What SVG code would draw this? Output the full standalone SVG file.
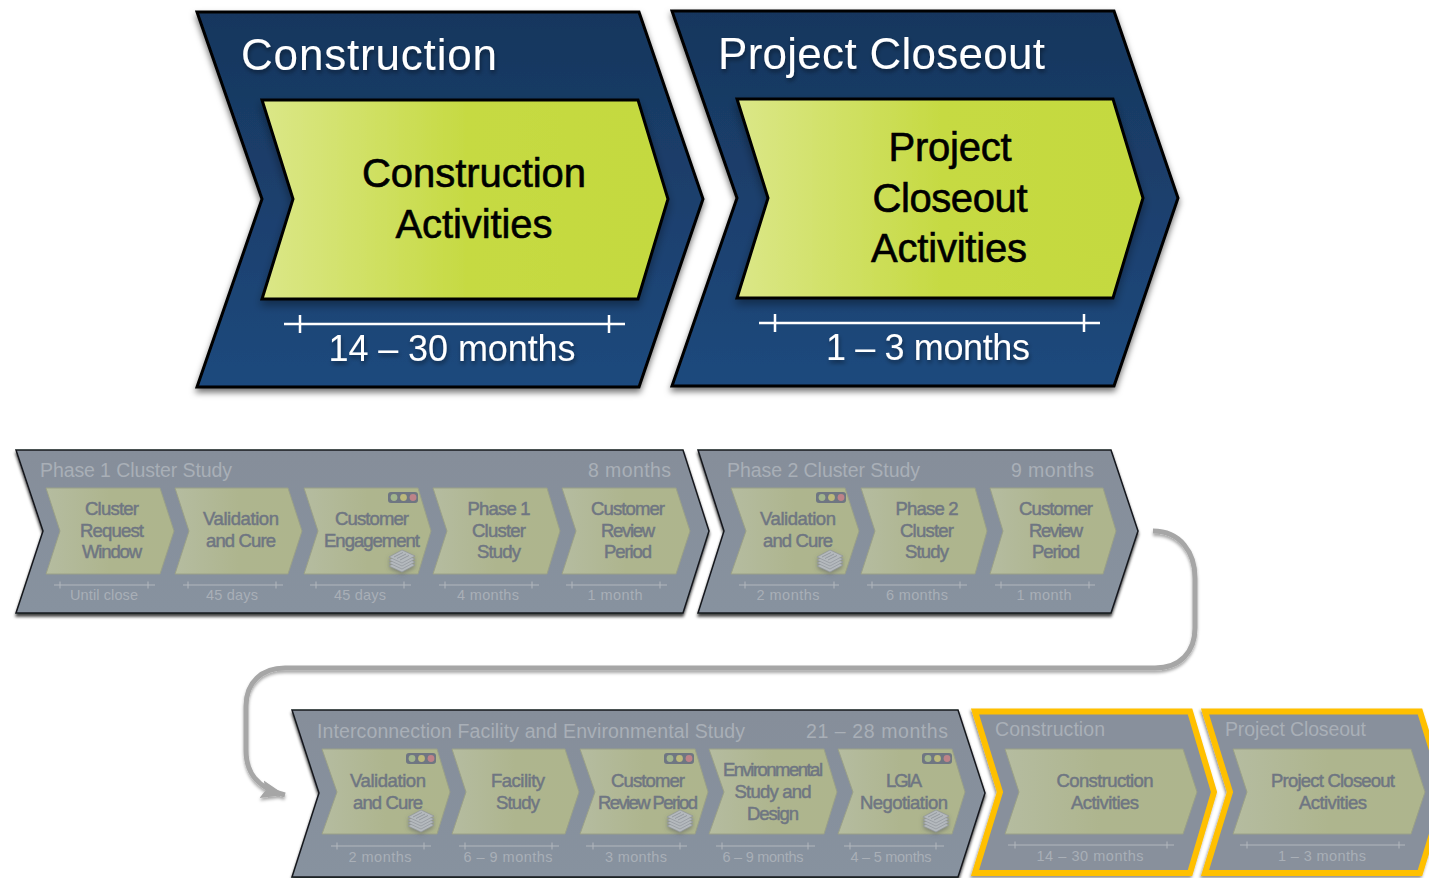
<svg xmlns="http://www.w3.org/2000/svg" xmlns:xlink="http://www.w3.org/1999/xlink" width="1429" height="878" viewBox="0 0 1429 878">
<style>
text{font-family:"Liberation Sans","Noto Sans",Arial,sans-serif}
.outer{fill:url(#blue);stroke:#000;stroke-width:3;stroke-linejoin:miter;filter:url(#sh)}
.inner{fill:url(#lime);stroke:#000;stroke-width:3;filter:url(#sh2)}
.big{font-size:44px;fill:#fff;filter:url(#ts)}
.bigin{font-size:40px;fill:#000;stroke:#000;stroke-width:.6;text-anchor:middle}
.dur{font-size:36px;fill:#fff;text-anchor:middle;filter:url(#ts)}
.tl{stroke:#fff;stroke-width:2.5;fill:none}
.gout{fill:url(#gray);stroke:#15181d;stroke-width:1.5;filter:url(#gsh)}
.yout{fill:#88909c;stroke:#ffc000;stroke-width:6;filter:url(#ysh)}
.gin{fill:url(#olive);stroke:#9aa088;stroke-width:1}
.gt{font-size:19.5px;fill:#a9afb7}
.it{font-size:18.5px;fill:#6f7682;stroke:#6f7682;stroke-width:.5;text-anchor:middle}
.lb{font-size:14.5px;fill:#a9afb7;text-anchor:middle}
.gl{stroke:#b2b7bd;stroke-width:1;fill:none}
.cn{fill:none;stroke:#a6a6a6;stroke-width:5;filter:url(#csh)}
</style>
<defs>
<linearGradient id="blue" x1="0" y1="0" x2="0" y2="1"><stop offset="0" stop-color="#17365d"/><stop offset="1" stop-color="#1f497d"/></linearGradient>
<linearGradient id="lime" x1="0" y1="0" x2="1" y2="0"><stop offset="0" stop-color="#dbe788"/><stop offset=".5" stop-color="#c6da43"/><stop offset="1" stop-color="#c4d93f"/></linearGradient>
<linearGradient id="gray" x1="0" y1="0" x2="0" y2="1"><stop offset="0" stop-color="#868e9a"/><stop offset="1" stop-color="#87929f"/></linearGradient>
<linearGradient id="olive" x1="0" y1="0" x2="1" y2="0"><stop offset="0" stop-color="#b5bca0"/><stop offset=".5" stop-color="#aeb58e"/><stop offset="1" stop-color="#aeb58d"/></linearGradient>
<filter id="sh" x="-5%" y="-5%" width="110%" height="115%"><feDropShadow dx="0" dy="4" stdDeviation="3" flood-color="#000" flood-opacity=".55"/></filter>
<filter id="sh2" x="-5%" y="-5%" width="110%" height="120%"><feDropShadow dx="0" dy="5" stdDeviation="4" flood-color="#000" flood-opacity=".35"/></filter>
<filter id="gsh" x="-5%" y="-5%" width="110%" height="115%"><feDropShadow dx="0" dy="3" stdDeviation="1.5" flood-color="#000" flood-opacity=".75"/></filter>
<filter id="ysh" x="-5%" y="-5%" width="110%" height="115%"><feDropShadow dx="-1" dy="2" stdDeviation="1.5" flood-color="#000" flood-opacity=".45"/></filter>
<filter id="ts" x="-5%" y="-10%" width="110%" height="130%"><feDropShadow dx="1" dy="3" stdDeviation="2" flood-color="#000" flood-opacity=".4"/></filter>
<filter id="csh" x="-5%" y="-5%" width="110%" height="110%"><feDropShadow dx="0" dy="2.500" stdDeviation="1.5" flood-color="#000" flood-opacity=".35"/></filter>
<filter id="psh" x="-30%" y="-30%" width="160%" height="170%"><feDropShadow dx="0" dy="2" stdDeviation="2" flood-color="#4a5058" flood-opacity=".5"/></filter>
<marker id="ah" markerUnits="userSpaceOnUse" markerWidth="26" markerHeight="22" refX="24" refY="11" orient="auto"><path d="M0 2L24 11L0 20L4 11Z" fill="#a6a6a6"/></marker>
<g id="lights"><rect width="30" height="11" rx="3" fill="#6f7682"/><circle cx="6" cy="5.5" r="3.4" fill="#a3b58c"/><circle cx="15.5" cy="5.5" r="3.4" fill="#bcb97c"/><circle cx="25" cy="5.5" r="3.4" fill="#bd8388"/></g>
<g id="papers" fill="#b4b9bd" stroke="#8b9197" stroke-width=".6" filter="url(#psh)"><path d="M-13 6L0 -1L13 5L0 12Z"/><path d="M-13 3L0 -4L13 2L0 9Z"/><path d="M-13 0L0 -7L13 -1L0 6Z"/><path d="M-13 -3L0 -10L13 -4L0 3Z"/><path d="M-8 -3L1 -7.500M-5 -1.500L4 -6M-2 0L7 -4.500" stroke="#7e858c"/></g>
</defs>

<g id="connectors">
<path class="cn" d="M1153 531C1180 531 1195 552 1195 578V628C1195 652 1180 668 1155 668H285C262 668 246 682 246 706V750C246 772 256 788 285 795" marker-end="url(#ah)"/>
</g>

<g id="node-construction">
<polygon class="outer" points="197,12 639,12 703,199 639,387 197,387 262,199"/>
<polygon class="inner" points="262,100 638,100 668,199 638,299 262,299 293,199"/>
<text class="big" x="241" y="70" textLength="256">Construction</text>
<text class="bigin" x="474" y="187" textLength="224">Construction</text>
<text class="bigin" x="474" y="238" textLength="157">Activities</text>
<path class="tl" d="M284 324H625M300 315V333M609 315V333"/>
<text class="dur" x="452" y="361" textLength="247">14 – 30 months</text>
</g>

<g id="node-closeout">
<polygon class="outer" points="672,11 1114,11 1178,198 1114,386 672,386 737,198"/>
<polygon class="inner" points="737,99 1113,99 1143,198 1113,298 737,298 768,198"/>
<text class="big" x="718" y="69" textLength="327">Project Closeout</text>
<text class="bigin" x="950" y="161" textLength="123">Project</text>
<text class="bigin" x="950" y="212" textLength="155">Closeout</text>
<text class="bigin" x="949" y="262" textLength="156">Activities</text>
<path class="tl" d="M759 323H1100M775 314V332M1084 314V332"/>
<text class="dur" x="928" y="360" textLength="204">1 – 3 months</text>
</g>

<g id="node-phase1">
<polygon class="gout" points="16,450 683,450 709,531 683,613 16,613 43,531"/>
<text class="gt" x="40" y="477" textLength="192">Phase 1 Cluster Study</text>
<text class="gt" x="588" y="477" textLength="83">8 months</text>
<g id="p1-a"><polygon class="gin" points="46,488 160,488 174,531 160,574 46,574 60,531"/>
<text class="it" x="112" y="515" textLength="54">Cluster</text><text class="it" x="112" y="537" textLength="64">Request</text><text class="it" x="112" y="558" textLength="60">Window</text>
<path class="gl" d="M54 585H155M60 581.500V588.500M148 581.500V588.500"/><text class="lb" x="104" y="600" textLength="68">Until close</text></g>
<g id="p1-b"><polygon class="gin" points="175,488 288,488 302,531 288,574 175,574 189,531"/>
<text class="it" x="241" y="525" textLength="76">Validation</text><text class="it" x="241" y="547" textLength="70">and Cure</text>
<path class="gl" d="M183 585H283M188 581.500V588.500M276 581.500V588.500"/><text class="lb" x="232" y="600" textLength="52">45 days</text></g>
<g id="p1-c"><polygon class="gin" points="304,488 418,488 431,531 418,574 304,574 318,531"/>
<text class="it" x="372" y="525" textLength="74">Customer</text><text class="it" x="372" y="547" textLength="96">Engagement</text>
<use href="#lights" x="388" y="492"/><use href="#papers" x="402" y="560"/>
<path class="gl" d="M310 585H411M316 581.500V588.500M404 581.500V588.500"/><text class="lb" x="360" y="600" textLength="52">45 days</text></g>
<g id="p1-d"><polygon class="gin" points="433,488 547,488 560,531 547,574 433,574 447,531"/>
<text class="it" x="499" y="515" textLength="63">Phase 1</text><text class="it" x="499" y="537" textLength="54">Cluster</text><text class="it" x="499" y="558" textLength="44">Study</text>
<path class="gl" d="M439 585H539M445 581.500V588.500M532 581.500V588.500"/><text class="lb" x="488" y="600" textLength="62">4 months</text></g>
<g id="p1-e"><polygon class="gin" points="562,488 676,488 690,531 676,574 562,574 576,531"/>
<text class="it" x="628" y="515" textLength="74">Customer</text><text class="it" x="628" y="537" textLength="54">Review</text><text class="it" x="628" y="558" textLength="48">Period</text>
<path class="gl" d="M566 585H667M572 581.500V588.500M660 581.500V588.500"/><text class="lb" x="615" y="600" textLength="55">1 month</text></g>
</g>

<g id="node-phase2">
<polygon class="gout" points="698,450 1111,450 1138,531 1111,613 698,613 724,531"/>
<text class="gt" x="727" y="477" textLength="193">Phase 2 Cluster Study</text>
<text class="gt" x="1011" y="477" textLength="83">9 months</text>
<g id="p2-a"><polygon class="gin" points="731,488 845,488 859,531 845,574 731,574 746,531"/>
<text class="it" x="798" y="525" textLength="76">Validation</text><text class="it" x="798" y="547" textLength="70">and Cure</text>
<use href="#lights" x="816" y="492"/><use href="#papers" x="830" y="560"/>
<path class="gl" d="M739 585H839M745 581.500V588.500M834 581.500V588.500"/><text class="lb" x="788" y="600" textLength="63">2 months</text></g>
<g id="p2-b"><polygon class="gin" points="861,488 975,488 987,531 975,574 861,574 875,531"/>
<text class="it" x="927" y="515" textLength="63">Phase 2</text><text class="it" x="927" y="537" textLength="54">Cluster</text><text class="it" x="927" y="558" textLength="44">Study</text>
<path class="gl" d="M867 585H967M872 581.500V588.500M960 581.500V588.500"/><text class="lb" x="917" y="600" textLength="62">6 months</text></g>
<g id="p2-c"><polygon class="gin" points="990,488 1103,488 1116,531 1103,574 990,574 1003,531"/>
<text class="it" x="1056" y="515" textLength="74">Customer</text><text class="it" x="1056" y="537" textLength="54">Review</text><text class="it" x="1056" y="558" textLength="48">Period</text>
<path class="gl" d="M995 585H1095M1001 581.500V588.500M1089 581.500V588.500"/><text class="lb" x="1044" y="600" textLength="55">1 month</text></g>
</g>

<g id="node-phase3">
<polygon class="gout" points="292,710 958,710 985,793 958,877 292,877 319,793"/>
<text class="gt" x="317" y="738" textLength="428">Interconnection Facility and Environmental Study</text>
<text class="gt" x="806" y="738" textLength="142">21 – 28 months</text>
<g id="p3-a"><polygon class="gin" points="322,749 437,749 450,792 437,834 322,834 337,792"/>
<text class="it" x="388" y="787" textLength="76">Validation</text><text class="it" x="388" y="809" textLength="70">and Cure</text>
<use href="#lights" x="406" y="753"/><use href="#papers" x="421" y="820"/>
<path class="gl" d="M331 846H431M337 842.500V849.500M424 842.500V849.500"/><text class="lb" x="380" y="862" textLength="63">2 months</text></g>
<g id="p3-b"><polygon class="gin" points="452,749 565,749 579,792 565,834 452,834 466,792"/>
<text class="it" x="518" y="787" textLength="54">Facility</text><text class="it" x="518" y="809" textLength="44">Study</text>
<path class="gl" d="M459 846H559M465 842.500V849.500M552 842.500V849.500"/><text class="lb" x="508" y="862" textLength="89">6 – 9 months</text></g>
<g id="p3-c"><polygon class="gin" points="580,749 695,749 708,792 695,834 580,834 595,792"/>
<text class="it" x="648" y="787" textLength="74">Customer</text><text class="it" x="648" y="809" textLength="100">Review Period</text>
<use href="#lights" x="664" y="753"/><use href="#papers" x="680" y="820"/>
<path class="gl" d="M586 846H687M593 842.500V849.500M680 842.500V849.500"/><text class="lb" x="636" y="862" textLength="62">3 months</text></g>
<g id="p3-d"><polygon class="gin" points="709,749 824,749 837,792 824,834 709,834 724,792"/>
<text class="it" x="773" y="776" textLength="100">Environmental</text><text class="it" x="773" y="798" textLength="77">Study and</text><text class="it" x="773" y="820" textLength="52">Design</text>
<path class="gl" d="M716 846H815M722 842.500V849.500M808 842.500V849.500"/><text class="lb" x="763" y="862" textLength="81">6 – 9 months</text></g>
<g id="p3-e"><polygon class="gin" points="838,749 952,749 965,792 952,834 838,834 853,792"/>
<text class="it" x="904" y="787" textLength="36">LGIA</text><text class="it" x="904" y="809" textLength="88">Negotiation</text>
<use href="#lights" x="922" y="753"/><use href="#papers" x="936" y="820"/>
<path class="gl" d="M844 846H944M850 842.500V849.500M936 842.500V849.500"/><text class="lb" x="891" y="862" textLength="81">4 – 5 months</text></g>
</g>

<g id="node-construction-small">
<polygon class="yout" points="975,711.500 1190,711.500 1214,792 1190,873 975,873 1000,792"/>
<text class="gt" x="995" y="736" textLength="110">Construction</text>
<polygon class="gin" points="1005,749 1183,749 1197,792 1183,834 1005,834 1019,792"/>
<text class="it" x="1105" y="787" textLength="97">Construction</text><text class="it" x="1105" y="809" textLength="68">Activities</text>
<path class="gl" d="M1008 845H1174M1015 841.500V848.500M1167 841.500V848.500"/><text class="lb" x="1090" y="861" textLength="107">14 – 30 months</text>
</g>

<g id="node-closeout-small">
<polygon class="yout" points="1205,711.500 1420,711.500 1445,792 1420,873 1205,873 1230,792"/>
<text class="gt" x="1225" y="736" textLength="141">Project Closeout</text>
<polygon class="gin" points="1233,749 1411,749 1425,792 1411,834 1233,834 1247,792"/>
<text class="it" x="1333" y="787" textLength="124">Project Closeout</text><text class="it" x="1333" y="809" textLength="68">Activities</text>
<path class="gl" d="M1240 845H1405M1247 841.500V848.500M1399 841.500V848.500"/><text class="lb" x="1322" y="861" textLength="88">1 – 3 months</text>
</g>
</svg>
